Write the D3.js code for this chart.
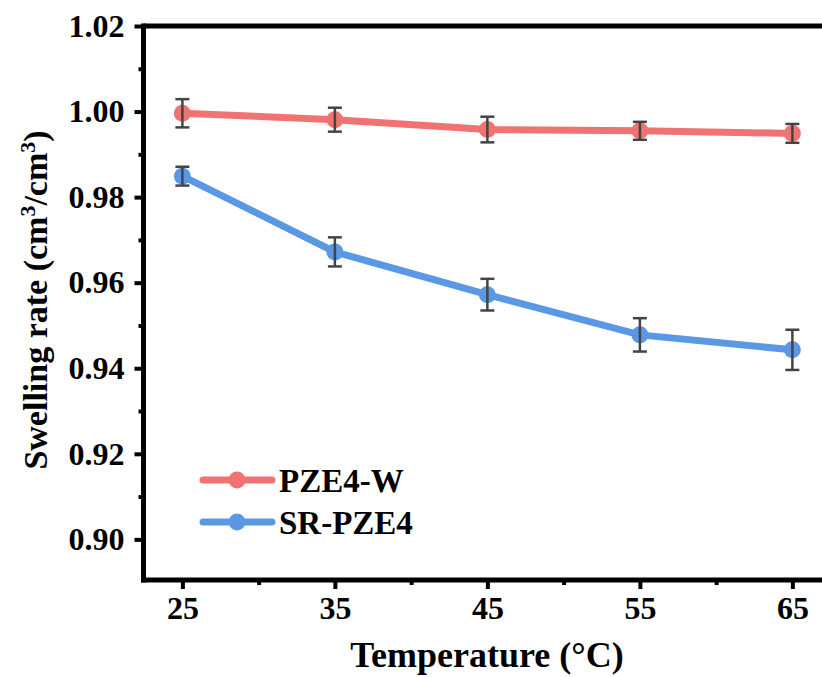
<!DOCTYPE html>
<html><head><meta charset="utf-8">
<script src="https://cdn.jsdelivr.net/npm/d3@7"></script>
<style>body{margin:0;background:#fff}svg{display:block}
svg text{font-family:"Liberation Serif","Times New Roman","DejaVu Serif",serif !important;font-weight:bold;fill:#000}</style>
</head><body>
<svg id="c" width="822" height="677"></svg>
<script>
const temps = [25, 35, 45, 55, 65];
const pze4w = [0.9996, 0.9981, 0.9958, 0.9955, 0.9949];
const pze4wErr = [0.0033, 0.0028, 0.0030, 0.0021, 0.0022];
const srpze4 = [0.9849, 0.9672, 0.9572, 0.9478, 0.9443];
const srpze4Err = [0.0022, 0.0034, 0.0037, 0.0039, 0.0047];
const yTicks = [0.90, 0.92, 0.94, 0.96, 0.98, 1.00, 1.02];
const xTicks = [25, 35, 45, 55, 65];
const seriesNames = ["PZE4-W", "SR-PZE4"];
const colors = ["#F07272", "#5A98E6"];

const svg = d3.select("#c");
const x = d3.scaleLinear().domain([22.45, 67.5]).range([143.5, 830.5]);
const y = d3.scaleLinear().domain([0.8905, 1.02]).range([580, 26]);

// axes
const xAxis = d3.axisBottom(x).tickValues(xTicks).tickSize(9).tickFormat(d3.format("d"));
const gx = svg.append("g").attr("transform", `translate(0,580)`).call(xAxis);
const xMinor = d3.axisBottom(x).tickValues([30, 40, 50, 60]).tickSize(5).tickFormat("");
svg.append("g").attr("transform", `translate(0,580)`).call(xMinor);

const yAxis = d3.axisLeft(y).tickValues(yTicks).tickSize(9).tickFormat(d3.format(".2f"));
const gy = svg.append("g").attr("transform", `translate(${x(22.45)},0)`).call(yAxis);
const yMinor = d3.axisLeft(y).tickValues([0.91, 0.93, 0.95, 0.97, 0.99, 1.01]).tickSize(5).tickFormat("");
svg.append("g").attr("transform", `translate(${x(22.45)},0)`).call(yMinor);

svg.selectAll(".domain").remove();
svg.selectAll(".tick line").attr("stroke", "#000").attr("stroke-width", 4);
gx.selectAll(".tick text").attr("font-size", 32).attr("dy", "0.71em").attr("y", 16);
gy.selectAll(".tick text").attr("font-size", 32).attr("x", -19);

// axis lines + top frame
svg.append("line").attr("x1", x(22.45)-2.5).attr("x2", 832).attr("y1", 580).attr("y2", 580).attr("stroke", "#000").attr("stroke-width", 5);
svg.append("line").attr("x1", x(22.45)).attr("x2", x(22.45)).attr("y1", y(1.02)-2.5).attr("y2", 582.5).attr("stroke", "#000").attr("stroke-width", 5);
svg.append("line").attr("x1", x(22.45)).attr("x2", 832).attr("y1", y(1.02)).attr("y2", y(1.02)).attr("stroke", "#000").attr("stroke-width", 5);

// data
const series = [
  {name: seriesNames[0], vals: pze4w, err: pze4wErr, color: colors[0]},
  {name: seriesNames[1], vals: srpze4, err: srpze4Err, color: colors[1]}
];
const line = d3.line().x((d, i) => x(temps[i])).y(d => y(d));
series.forEach(s => {
  const g = svg.append("g");
  g.append("path").attr("d", line(s.vals)).attr("fill", "none").attr("stroke", s.color).attr("stroke-width", 7);
  s.vals.forEach((v, i) => {
    g.append("circle").attr("cx", x(temps[i])).attr("cy", y(v)).attr("r", 8.5).attr("fill", s.color);
  });
  s.vals.forEach((v, i) => {
    const cx = x(temps[i]), t = y(v + s.err[i]), b = y(v - s.err[i]);
    g.append("line").attr("x1", cx).attr("x2", cx).attr("y1", t).attr("y2", b).attr("stroke", "#444").attr("stroke-width", 2.5);
    [t, b].forEach(yy => g.append("line").attr("x1", cx - 7).attr("x2", cx + 7).attr("y1", yy).attr("y2", yy).attr("stroke", "#444").attr("stroke-width", 2.5));
  });
});

// legend
series.forEach((s, i) => {
  const ly = 480 + i * 42;
  svg.append("line").attr("x1", 203).attr("x2", 272).attr("y1", ly).attr("y2", ly).attr("stroke", s.color).attr("stroke-width", 7).attr("stroke-linecap", "round");
  svg.append("circle").attr("cx", 237).attr("cy", ly).attr("r", 8.5).attr("fill", s.color);
  svg.append("text").attr("x", 279).attr("y", ly).attr("dy", "0.36em").attr("font-size", 33).text(s.name);
});

// axis titles
svg.append("text").attr("x", 487).attr("y", 667).attr("text-anchor", "middle").attr("font-size", 36).text("Temperature (°C)");

const yt = svg.append("text").attr("transform", "translate(47,300) rotate(-90)").attr("text-anchor", "middle").attr("font-size", 34);
yt.append("tspan").text("Swelling rate (cm");
yt.append("tspan").attr("baseline-shift", "super").attr("font-size", 22).text("3");
yt.append("tspan").text("/cm");
yt.append("tspan").attr("baseline-shift", "super").attr("font-size", 22).text("3");
yt.append("tspan").text(")");
</script>
</body></html>
